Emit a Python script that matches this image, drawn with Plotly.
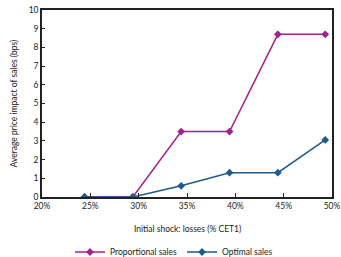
import plotly.graph_objects as go

shock = [24.4, 29.4, 34.4, 39.4, 44.4, 49.3]
proportional = [0, 0, 3.5, 3.5, 8.7, 8.7]
optimal = [0, 0, 0.6, 1.3, 1.3, 3.05]
x_ticks = [20, 25, 30, 35, 40, 45, 50]
x_tick_labels = ["20%", "25%", "30%", "35%", "40%", "45%", "50%"]

FONT = "Lato, Liberation Sans, sans-serif"
W, H = 341, 257
L, R, T, B = 42, 9, 10, 60
PW, PH = W - L - R, H - T - B

fig = go.Figure()
fig.add_trace(go.Scatter(x=shock, y=proportional, name="Proportional sales", mode="lines+markers",
                         line=dict(color="#A3218E", width=1.5),
                         marker=dict(symbol="diamond", size=6, color="#A3218E")))
fig.add_trace(go.Scatter(x=shock, y=optimal, name="Optimal sales", mode="lines+markers",
                         line=dict(color="#1D5B8C", width=1.5),
                         marker=dict(symbol="diamond", size=6, color="#1D5B8C")))

fig.update_layout(
    width=W, height=H,
    margin=dict(l=L, r=R, t=T, b=B, autoexpand=False),
    paper_bgcolor="white", plot_bgcolor="white",
    font=dict(family=FONT, size=8.5, color="#222"),
    showlegend=True,
    legend=dict(orientation="h", x=(174 - L) / PW, xanchor="center", yref="container",
                y=5 / H, yanchor="middle",
                font=dict(size=8.5), itemwidth=30, tracegroupgap=0),
    xaxis=dict(range=[20, 50], tickvals=x_ticks, ticktext=x_tick_labels,
               showgrid=False, zeroline=False, showline=True, linecolor="#222", linewidth=1.5,
               mirror=True, ticks="inside", ticklen=4, tickcolor="#222", automargin=False),
    yaxis=dict(range=[0, 10], dtick=1, showgrid=False, zeroline=False, showline=True,
               linecolor="#222", linewidth=1.5, mirror=True, ticks="inside", ticklen=3,
               tickcolor="#222", automargin=False),
    annotations=[
        dict(text="Initial shock: losses (% CET1)", xref="paper", yref="paper", x=0.5,
             y=(H - B - 229) / PH, xanchor="center", yanchor="middle", showarrow=False,
             font=dict(size=8.5)),
        dict(text="Average price impact of sales (bps)", xref="paper", yref="paper",
             x=(13 - L) / PW, y=0.5, xanchor="center", yanchor="middle", textangle=-90,
             showarrow=False, font=dict(size=8.5)),
    ],
)
fig.write_html("out.html", config={"displayModeBar": False},
               post_script="document.body.style.margin='0';document.body.style.overflow='hidden';")
